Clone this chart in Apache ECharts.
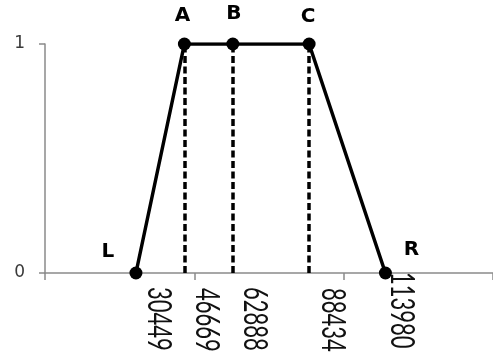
<!DOCTYPE html>
<html>
<head>
<meta charset="utf-8">
<script src="https://cdn.jsdelivr.net/npm/echarts@6/dist/echarts.min.js"></script>
<style>
  html, body { margin: 0; padding: 0; background: #ffffff; }
  #chart { width: 493px; height: 356px; }
</style>
</head>
<body>
<div id="chart"></div>
<script>
// Trapezoidal membership function: L -> A -> B -> C -> R
const pointNames = ['L', 'A', 'B', 'C', 'R'];
const pointX = [30449, 46669, 62888, 88434, 113980];
const membership = [0, 1, 1, 1, 0];
// Points that get a dashed drop line to the axis
const dropLineX = [46669, 62888, 88434];
// Axis range
const xMin = 0, xMax = 150000, xStep = 50000;
const yTicks = [0, 1];

// Pixel offsets of the letter labels from their points
const letterOffset = {
  L: [-28, -21], A: [-2, -28], B: [1, -30], C: [-1, -27], R: [26, -23]
};
// Pixel shift of the rotated value labels from each point's foot on the axis
const valueShift = [[22, 14], [22, 15], [21, 14], [23, 15], [16, -1]];

const lineData = pointX.map((x, i) => ({
  value: [x, membership[i]],
  label: {
    show: true,
    position: 'inside',
    offset: letterOffset[pointNames[i]],
    formatter: pointNames[i],
    color: '#000',
    fontFamily: 'DejaVu Sans',
    fontWeight: 'bold',
    fontSize: 20
  }
}));

const axisGrey = '#8a8a8a';

const chart = echarts.init(document.getElementById('chart'), null, { renderer: 'canvas' });
chart.setOption({
  backgroundColor: '#ffffff',
  animation: false,
  grid: { left: 45, top: 44, width: 450, height: 229, containLabel: false },
  xAxis: {
    type: 'value',
    min: xMin, max: xMax, interval: xStep,
    axisLine: { show: true, onZero: false, lineStyle: { color: axisGrey, width: 1.5 } },
    axisTick: { show: true, inside: false, length: 7, lineStyle: { color: axisGrey, width: 1.5 } },
    axisLabel: { show: false },
    splitLine: { show: false }
  },
  yAxis: {
    type: 'value',
    min: yTicks[0], max: yTicks[yTicks.length - 1], interval: 1,
    axisLine: { show: true, onZero: false, lineStyle: { color: axisGrey, width: 1.5 } },
    axisTick: { show: true, inside: false, length: 6, lineStyle: { color: axisGrey, width: 1.5 } },
    axisLabel: {
      show: true, margin: 20, color: '#3a3a3a',
      fontFamily: 'DejaVu Sans', fontSize: 17
    },
    splitLine: { show: false }
  },
  series: [
    {
      type: 'line',
      data: lineData,
      symbol: 'circle',
      symbolSize: 13,
      itemStyle: { color: '#000' },
      lineStyle: { color: '#000', width: 3.5 },
      z: 3,
      markLine: {
        silent: true,
        symbol: 'none',
        label: { show: false },
        lineStyle: { color: '#000', width: 3.5, type: [7, 3.5] },
        data: dropLineX.map(x => ({ xAxis: x }))
      }
    },
    {
      // Rotated value labels beneath the axis
      type: 'custom',
      data: pointX.map(x => [x, 0]),
      clip: false,
      z: 4,
      renderItem: function (params, api) {
        const i = params.dataIndex;
        const p = api.coord([api.value(0), 0]);
        const s = valueShift[i];
        return {
          type: 'text',
          x: p[0] + s[0],
          y: p[1] + s[1],
          rotation: -Math.PI / 2,
          scaleY: 1.45,
          style: {
            text: String(api.value(0)),
            fill: '#111',
            fontFamily: 'Lato',
            fontSize: 22,
            align: 'left',
            verticalAlign: 'middle'
          }
        };
      }
    }
  ]
});
</script>
</body>
</html>
